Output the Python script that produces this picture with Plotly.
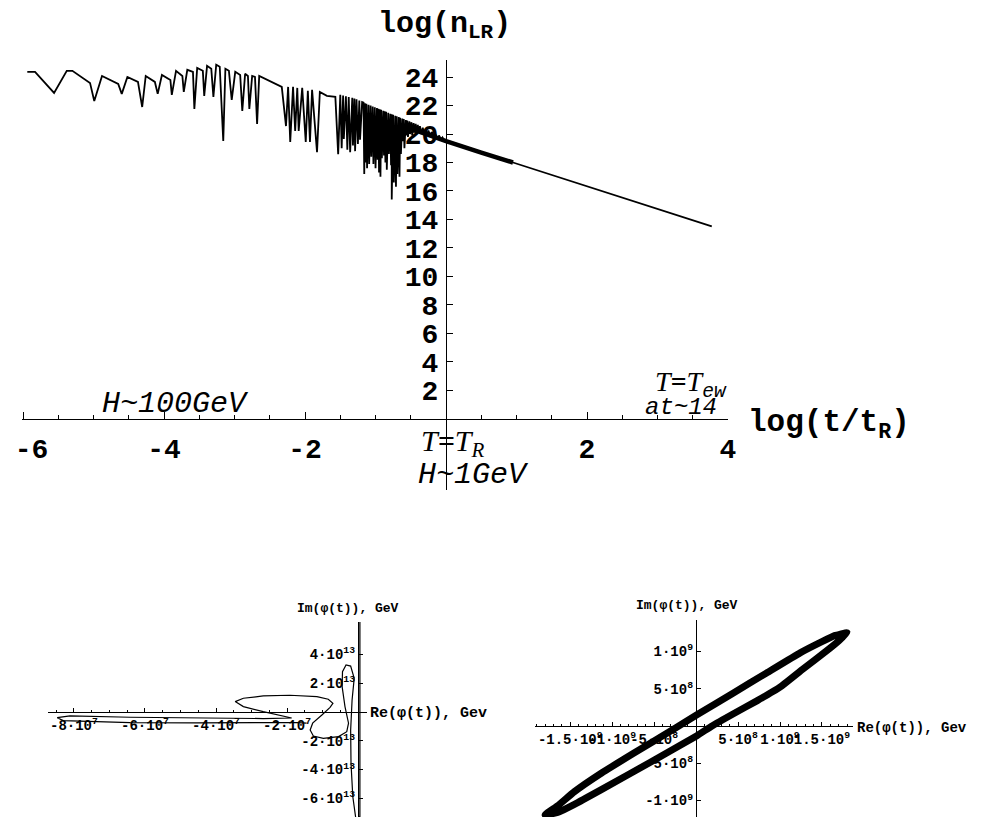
import plotly.graph_objects as go

# ---------------- top panel: log(n_LR) vs log(t/t_R) ----------------
top_x = [-5.94, -5.83, -5.56, -5.38, -5.30, -5.05, -4.99, -4.88, -4.65, -4.60, -4.52, -4.37, -4.31,
         -4.26, -4.13, -4.09, -4.03, -3.91, -3.89, -3.83, -3.74, -3.72, -3.67, -3.59, -3.57, -3.53,
         -3.45, -3.43, -3.39, -3.33, -3.30, -3.26, -3.21, -3.16, -3.13, -3.08, -3.04, -2.99, -2.92,
         -2.89, -2.85, -2.81, -2.79, -2.75, -2.71, -2.68, -2.65, -2.33,
         -2.27, -2.24, -2.21, -2.17, -2.14, -2.11, -2.09, -2.04, -1.99, -1.96, -1.93, -1.90, -1.83,
         -1.79, -1.69, -1.57, -1.53, -1.50, -1.48, -1.46, -1.45, -1.42, -1.40, -1.38, -1.36, -1.33,
         -1.32, -1.30, -1.29, -1.27, -1.25, -1.23, -1.22, -1.19,
         -1.17, -1.16, -1.15, -1.14, -1.13, -1.12, -1.10, -1.09, -1.07, -1.06, -1.04, -1.03, -1.01,
         -1.00, -0.98, -0.97, -0.96, -0.95, -0.94, -0.93, -0.92, -0.91, -0.89, -0.88, -0.87, -0.86,
         -0.85, -0.84, -0.82, -0.81, -0.79, -0.78, -0.77, -0.77, -0.75, -0.74, -0.72, -0.71, -0.70,
         -0.69, -0.67, -0.66, -0.65, -0.64, -0.62, -0.61, -0.60, -0.59, -0.57, -0.56, -0.55, -0.54,
         -0.52, -0.51, -0.49, -0.48, -0.46, -0.45, -0.43, -0.42, -0.40, -0.39, -0.37, -0.35, -0.33,
         -0.31, -0.29, -0.27, -0.25, -0.22, -0.20, -0.17, -0.15, -0.12, -0.10, -0.07, -0.05, -0.02,
         0.00, 0.95, 3.77]
top_y = [24.37, 24.37, 22.89, 24.44, 24.44, 23.59, 22.32, 24.08, 23.52, 22.82, 24.01, 23.66, 21.90,
         24.08, 23.66, 22.82, 24.15, 23.80, 22.75, 24.44, 24.08, 22.96, 24.51, 24.37, 21.76, 24.65,
         24.44, 22.68, 24.79, 24.58, 22.61, 24.86, 24.72, 19.51, 24.58, 24.44, 22.39, 24.37, 24.15,
         21.62, 24.23, 24.08, 21.76, 24.08, 24.01, 20.70, 24.08, 23.31,
         20.56, 23.31, 19.44, 23.31, 20.21, 23.24, 20.21, 23.24, 19.44, 23.03, 19.44, 23.10, 18.73,
         22.96, 22.68, 22.61, 18.59, 22.75, 19.00, 22.70, 19.65, 22.65, 18.90, 22.60, 18.73, 22.55,
         19.20, 22.50, 18.80, 22.45, 19.30, 22.35, 19.60, 22.25,
         22.21, 17.20, 22.17, 18.00, 22.13, 17.60, 22.06, 17.90, 22.00, 18.40, 21.94, 17.90, 21.88,
         17.60, 21.82, 18.20, 21.78, 17.30, 21.74, 17.00, 21.70, 18.30, 21.64, 18.50, 21.60, 18.00,
         21.56, 17.50, 21.50, 18.60, 21.43, 17.80, 21.39, 15.40, 21.35, 16.60, 21.29, 16.30, 21.25,
         17.20, 21.19, 17.00, 21.15, 18.60, 21.09, 19.50, 21.05, 19.00, 20.99, 19.90, 20.95, 19.80,
         20.89, 20.00, 20.83, 19.90, 20.77, 20.10, 20.71, 20.00, 20.65, 20.10, 20.56, 20.00, 20.45,
         19.95, 20.35, 19.90, 20.25, 19.80, 20.15, 19.72, 20.00, 19.65, 19.90, 19.58, 19.75, 19.50,
         19.55, 18.00, 13.52]
# thick band where the fast, small oscillations merge (envelope of the curve)
band_x = [-0.45, 0.00, 0.50, 0.95]
band_y = [20.30, 19.50, 18.70, 18.00]

top_xticks = [-6, -4, -2, 2, 4]
top_xlabels = ["\u00a0-6", "-4", "-2", "2", "4"]
top_yticks = [2, 4, 6, 8, 10, 12, 14, 16, 18, 20, 22, 24]

# ---------------- bottom-left panel: phi(t) trajectory ----------------
left_re = [0.05e7, 0.05e7, -0.06e7, -0.15e7, -0.20e7, -0.21e7, -0.17e7, -0.11e7, -0.21e7, -0.34e7,
           -0.44e7, -0.45e7, -0.37e7, -0.27e7, -0.32e7, -0.55e7, -0.98e7, -1.26e7, -1.35e7, -1.28e7,
           -1.02e7, -0.79e7, -0.71e7, -0.84e7, -1.16e7, -1.92e7, -2.67e7, -3.23e7, -3.46e7, -3.23e7,
           -2.67e7, -2.10e7, -1.87e7, -2.67e7, -4.54e7, -6.42e7, -8.11e7, -8.47e7, -8.30e7, -6.42e7,
           -4.54e7, -2.67e7, -1.73e7, -1.45e7]
left_im = [6.27e13, -7.27e13, -7.50e13, -5.88e13, -3.56e13, -1.25e13, 0.83e13, 2.34e13, 3.19e13,
           3.26e13, 2.80e13, 1.76e13, 0.37e13, -0.78e13, -1.37e13, -1.71e13, -1.83e13, -1.67e13,
           -1.25e13, -0.78e13, -0.21e13, 0.32e13, 0.60e13, 0.88e13, 1.06e13, 1.16e13, 1.11e13,
           0.95e13, 0.72e13, 0.37e13, 0.02e13, -0.26e13, -0.42e13, -0.46e13, -0.44e13, -0.37e13,
           -0.28e13, -0.40e13, -0.60e13, -0.74e13, -0.76e13, -0.74e13, -0.74e13, -0.78e13]
left_xticks = [-8e7, -6e7, -4e7, -2e7]
left_xlabels = ["-8·10<sup>7</sup>", "-6·10<sup>7</sup>", "-4·10<sup>7</sup>", "-2·10<sup>7</sup>"]
left_yticks = [4e13, 2e13, -2e13, -4e13, -6e13]
left_ylabels = ["4·10<sup>13</sup>", "2·10<sup>13</sup>", "-2·10<sup>13</sup>",
                "-4·10<sup>13</sup>", "-6·10<sup>13</sup>"]

# ---------------- bottom-right panel: phi(t) trajectory ----------------
right_re = [-1.80e9, -1.65e9, -1.45e9, -1.14e9, -0.75e9, -0.25e9, 0.01e9, 0.44e9, 0.84e9, 1.24e9,
            1.50e9, 1.65e9, 1.80e9, 1.70e9, 1.56e9, 1.27e9, 1.00e9, 0.73e9, 0.44e9, 0.19e9,
            0.01e9, -0.55e9, -1.14e9, -1.45e9, -1.65e9, -1.80e9]
right_im = [-1.19e9, -1.07e9, -0.88e9, -0.64e9, -0.37e9, -0.03e9, 0.15e9, 0.44e9, 0.71e9, 0.98e9,
            1.13e9, 1.21e9, 1.25e9, 1.14e9, 1.01e9, 0.76e9, 0.52e9, 0.34e9, 0.16e9, 0.00e9,
            -0.13e9, -0.49e9, -0.86e9, -1.05e9, -1.16e9, -1.19e9]
right_xticks = [-1.5e9, -1e9, -5e8, 5e8, 1e9, 1.5e9]
right_xlabels = ["-1.5·10<sup>9</sup>", "-1·10<sup>9</sup>", "-5·10<sup>8</sup>",
                 "5·10<sup>8</sup>", "1·10<sup>9</sup>", "1.5·10<sup>9</sup>"]
right_yticks = [1e9, 5e8, -5e8, -1e9]
right_ylabels = ["1·10<sup>9</sup>", "5·10<sup>8</sup>", "-5·10<sup>8</sup>", "-1·10<sup>9</sup>"]

MONO = "Liberation Mono"
SERIF = "Liberation Serif"

fig = go.Figure()
fig.add_trace(go.Scatter(x=band_x, y=band_y, mode="lines", line=dict(color="black", width=4.5),
                         xaxis="x", yaxis="y", hoverinfo="skip"))
fig.add_trace(go.Scatter(x=top_x, y=top_y, mode="lines", line=dict(color="black", width=1.8),
                         xaxis="x", yaxis="y", hoverinfo="skip"))
fig.add_trace(go.Scatter(x=left_re, y=left_im, mode="lines", line=dict(color="black", width=1.2),
                         xaxis="x2", yaxis="y2", hoverinfo="skip"))
fig.add_trace(go.Scatter(x=right_re, y=right_im, mode="lines",
                         line=dict(color="black", width=7, shape="spline", smoothing=0.4),
                         xaxis="x3", yaxis="y3", hoverinfo="skip"))

# page body has an 8px default margin, so the figure is 8px smaller and offset by 8px
OFF = 8
W, H = 988 - OFF, 817 - OFF


def px(v):
    return (v - OFF) / W


def py(v):
    return 1 - (v - OFF) / H


big_tick = dict(family=MONO, size=28, color="black", weight="bold")
small_tick = dict(family=MONO, size=14, color="black", weight="bold")

common = dict(showgrid=False, zeroline=False, showline=True, linecolor="black", linewidth=1.3,
              ticks="inside", tickcolor="black", anchor="free", fixedrange=True,
              automargin=False, tickangle=0, ticklabeloverflow="allow")

fig.update_layout(
    template="none",
    width=W, height=H,
    margin=dict(l=0, r=0, t=0, b=0, pad=0),
    paper_bgcolor="white", plot_bgcolor="white",
    showlegend=False,
    xaxis=dict(domain=[px(22), px(728)], range=[-6.015, 4], position=py(419),
               tickvals=top_xticks, ticktext=top_xlabels, ticklen=7,
               tickwidth=1.2, tickfont=big_tick, ticklabelstandoff=4,
               minor=dict(dtick=0.5, tick0=0, ticks="inside", ticklen=4, tickcolor="black"),
               **common),
    yaxis=dict(domain=[py(490), py(60)], range=[-5, 25.2], position=px(446),
               tickvals=top_yticks, ticktext=[str(v) for v in top_yticks], ticklen=6,
               tickwidth=1.2, tickfont=big_tick, ticklabelstandoff=2, **common),
    xaxis2=dict(domain=[px(48), px(367)], range=[-8.73e7, 0.25e7], position=py(712),
                tickvals=left_xticks, ticktext=left_xlabels, ticklen=4, tickfont=small_tick,
                minor=dict(dtick=0.5e7, tick0=0, ticks="inside", ticklen=2, tickcolor="black"),
                **common),
    yaxis2=dict(domain=[0, py(622)], range=[-7.3e13, 6.25e13], position=px(358),
                tickvals=left_yticks, ticktext=left_ylabels, ticklen=4, tickfont=small_tick,
                **common),
    xaxis3=dict(domain=[px(535), px(853)], range=[-1.92e9, 1.87e9], position=py(726),
                tickvals=right_xticks, ticktext=right_xlabels, ticklen=4, tickfont=small_tick,
                layer="below traces",
                minor=dict(dtick=1e8, tick0=0, ticks="inside", ticklen=2, tickcolor="black"),
                **common),
    yaxis3=dict(domain=[0, py(620)], range=[-1.22e9, 1.42e9], position=px(696),
                tickvals=right_yticks, ticktext=right_ylabels, ticklen=4, tickfont=small_tick,
                layer="below traces", **common),
)

ann = []
ann.append(dict(text="log(n<sub>LR</sub>)", x=px(444), y=py(26), xanchor="center", yanchor="middle",
                font=dict(family=MONO, size=30, color="black", weight="bold")))
ann.append(dict(text="log(t/t<sub>R</sub>)", x=px(746), y=py(425), xanchor="left", yanchor="middle",
                font=dict(family=MONO, size=31, color="black", weight="bold")))
ann.append(dict(text="H~100GeV", x=px(175), y=py(404), xanchor="center", yanchor="middle",
                font=dict(family=MONO, size=30, color="black", style="italic")))
ann.append(dict(text="T<b>=</b>T<sub><span style='font-family:Liberation Mono'>ew</span></sub>",
                x=px(729), y=py(384), xanchor="right", yanchor="middle",
                font=dict(family=SERIF, size=28, color="black", style="italic")))
ann.append(dict(text="at~14", x=px(719), y=py(407), xanchor="right", yanchor="middle",
                font=dict(family=MONO, size=24, color="black", style="italic")))
ann.append(dict(text="T<b>=</b>T<sub>R</sub>", x=px(419), y=py(443), xanchor="left", yanchor="middle",
                font=dict(family=SERIF, size=30, color="black", style="italic")))
ann.append(dict(text="H~1GeV", x=px(416), y=py(475), xanchor="left", yanchor="middle",
                font=dict(family=MONO, size=30, color="black", style="italic")))
# bottom panels axis labels
ann.append(dict(text="Im(φ(t)), GeV", x=px(348), y=py(608), xanchor="center", yanchor="middle",
                font=dict(family=MONO, size=13, color="black", weight="bold")))
ann.append(dict(text="Re(φ(t)), Gev", x=px(368), y=py(713), xanchor="left", yanchor="middle",
                font=dict(family=MONO, size=15, color="black", weight="bold")))
ann.append(dict(text="Im(φ(t)), GeV", x=px(687), y=py(605), xanchor="center", yanchor="middle",
                font=dict(family=MONO, size=13, color="black", weight="bold")))
ann.append(dict(text="Re(φ(t)), Gev", x=px(855), y=py(728), xanchor="left", yanchor="middle",
                font=dict(family=MONO, size=14, color="black", weight="bold")))
for a in ann:
    a.update(xref="paper", yref="paper", showarrow=False)
fig.update_layout(annotations=ann)

fig.write_html("out.html")
